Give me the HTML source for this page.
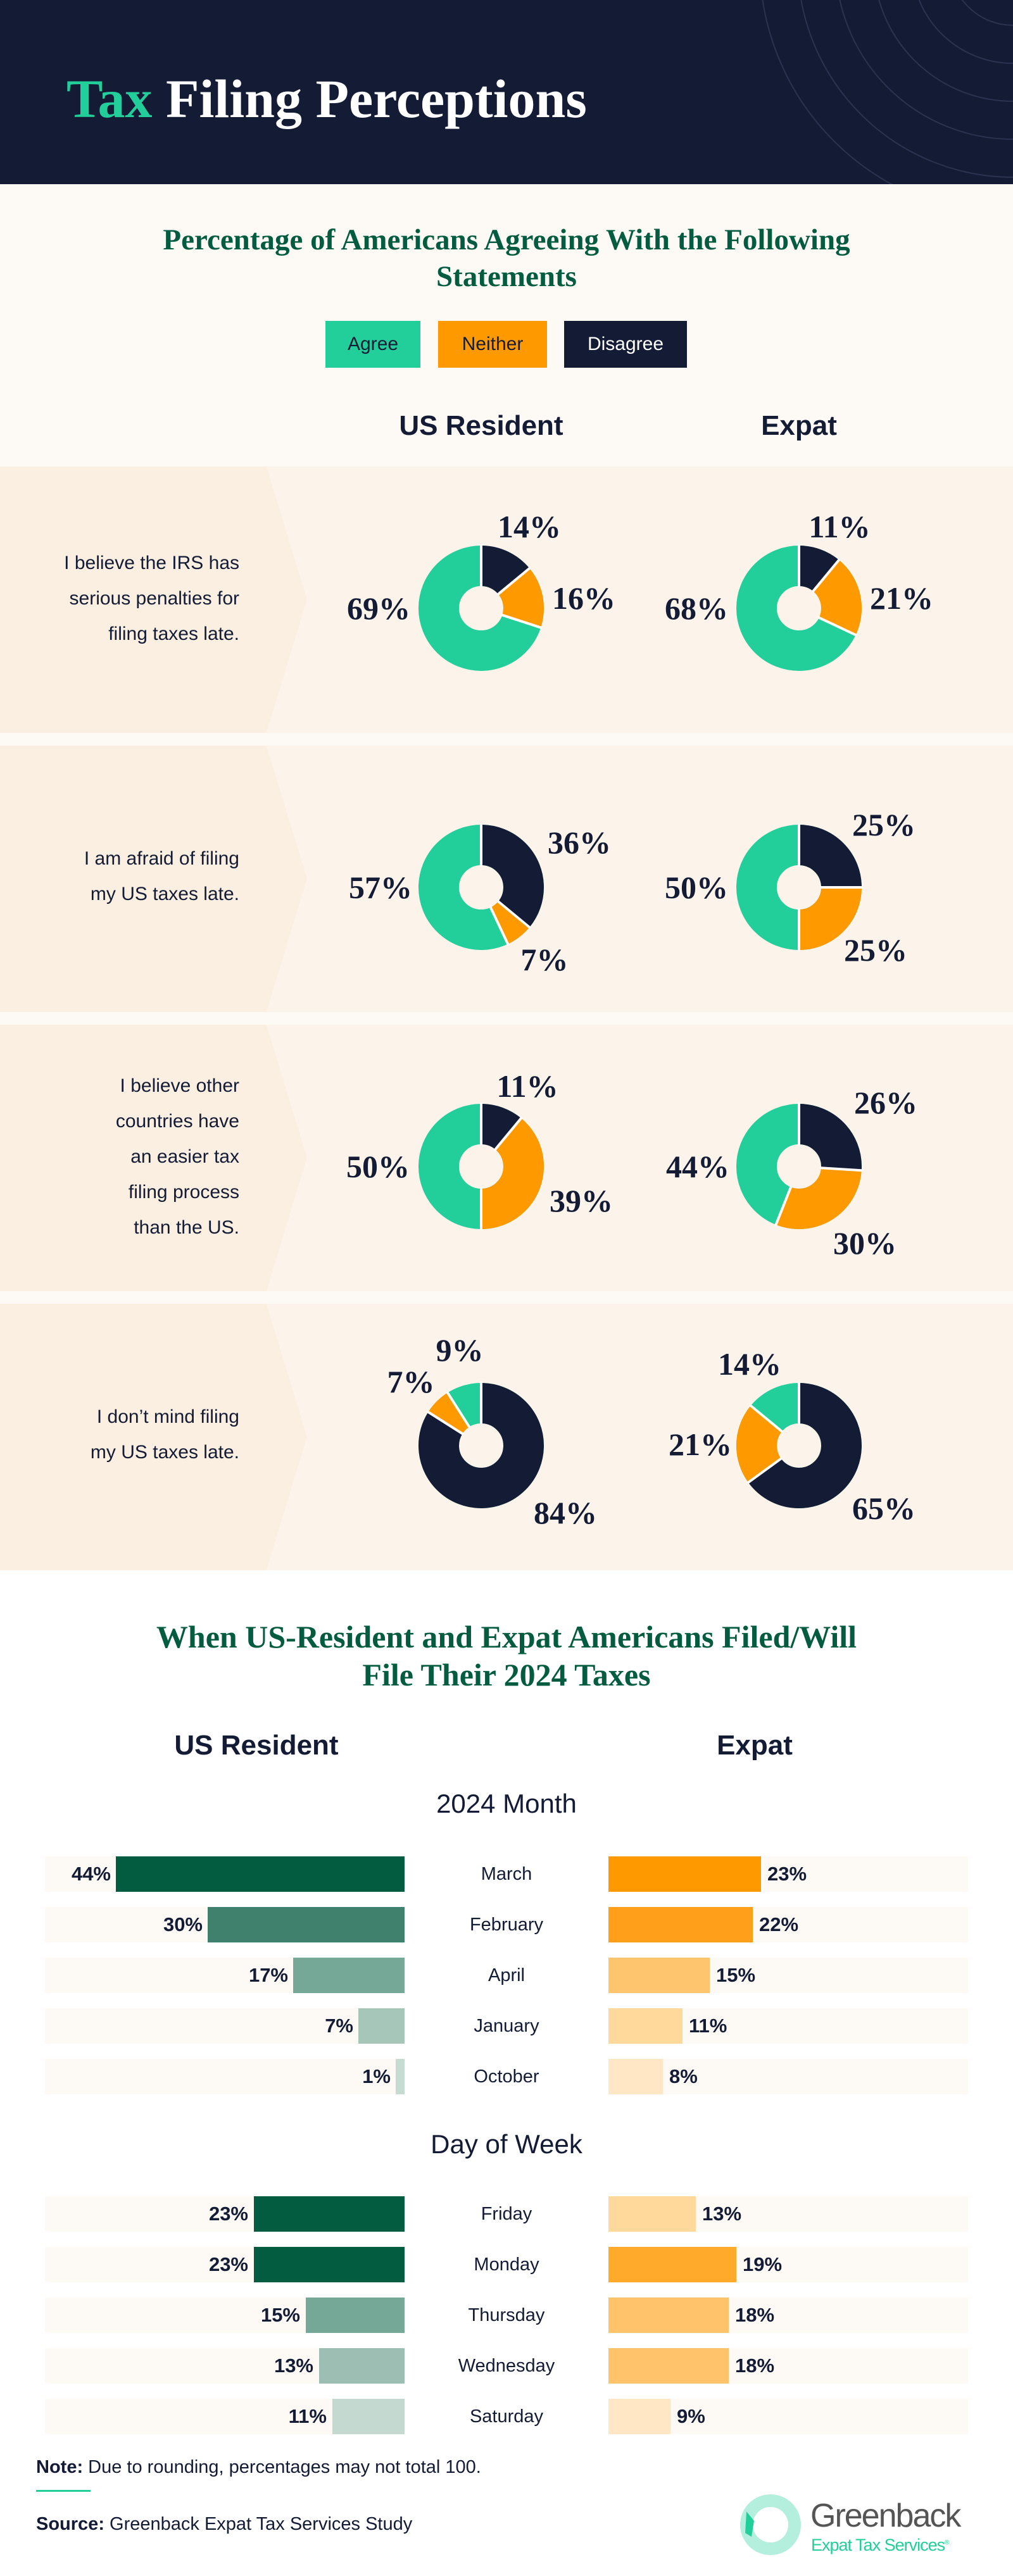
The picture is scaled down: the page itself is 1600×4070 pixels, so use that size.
<!DOCTYPE html>
<html><head><meta charset="utf-8"><style>
*{margin:0;padding:0;box-sizing:border-box}
body{width:1600px;height:4070px;position:relative;overflow:hidden;background:#fff;font-family:"Liberation Sans",sans-serif;color:#131b35}
.a{position:absolute}
.serif{font-family:"Liberation Serif",serif;font-weight:bold}
.pct{position:absolute;font-family:"Liberation Serif",serif;font-weight:bold;font-size:50px;color:#131b35;transform:translate(-50%,-50%);white-space:nowrap;line-height:1}
.row{position:absolute;left:0;width:1600px;height:421px;background:#fcf4eb}
.row .lp{position:absolute;left:0;top:0;width:490px;height:421px}
.row .txt{position:absolute;right:1222px;width:360px;text-align:right;font-size:30px;line-height:56px;color:#131b35}
.bg{position:absolute;height:56px;background:#fdfaf5}
.bar{position:absolute;height:56px}
.bl{position:absolute;font-weight:bold;font-size:31px;line-height:56px;height:56px;white-space:nowrap}
.ml{position:absolute;left:700px;width:200px;text-align:center;font-size:29px;line-height:56px;height:56px}
</style></head><body>

<!-- header -->
<div class="a" style="left:0;top:0;width:1600px;height:291px;background:#131b35;overflow:hidden">
<svg class="a" style="left:0;top:0" width="1600" height="291">
<g fill="none" stroke="#2a3350" stroke-width="2">
<circle cx="1600" cy="-60" r="100"/><circle cx="1600" cy="-60" r="160"/><circle cx="1600" cy="-60" r="220"/><circle cx="1600" cy="-60" r="280"/><circle cx="1600" cy="-60" r="340"/><circle cx="1600" cy="-60" r="400"/>
</g></svg>
<div class="a serif" style="left:105px;top:104px;font-size:86px;line-height:104px;color:#fff;white-space:nowrap"><span style="color:#22cf9a">Tax</span> Filing Perceptions</div>
</div>

<!-- section 1 top -->
<div class="a" style="left:0;top:291px;width:1600px;height:2190px;background:#fdfaf6"></div>
<div class="a serif" style="left:0;top:350px;width:1600px;text-align:center;font-size:47px;line-height:58px;color:#035c3f">Percentage of Americans Agreeing With the Following<br>Statements</div>
<div class="a" style="left:514px;top:507px;width:150px;height:74px;background:#22cf9a;font-size:30px;line-height:74px;text-align:center">Agree</div>
<div class="a" style="left:692px;top:507px;width:172px;height:74px;background:#ff9900;font-size:30px;line-height:74px;text-align:center">Neither</div>
<div class="a" style="left:891px;top:507px;width:194px;height:74px;background:#131b35;color:#fff;font-size:30px;line-height:74px;text-align:center">Disagree</div>
<div class="a" style="left:560px;top:645px;width:400px;text-align:center;font-weight:bold;font-size:44px;line-height:56px">US Resident</div>
<div class="a" style="left:1062px;top:645px;width:400px;text-align:center;font-weight:bold;font-size:44px;line-height:56px">Expat</div>

<!-- rows -->
<div class="row" style="top:737px"><svg class="lp" width="490" height="421"><polygon points="0,0 421,0 485,210 421,421 0,421" fill="#fbefe2"/></svg>
<div class="txt" style="top:125px">I believe the IRS has<br>serious penalties for<br>filing taxes late.</div></div>
<div class="row" style="top:1178px"><svg class="lp" width="490" height="421"><polygon points="0,0 421,0 485,210 421,421 0,421" fill="#fbefe2"/></svg>
<div class="txt" style="top:151px">I am afraid of filing<br>my US taxes late.</div></div>
<div class="row" style="top:1619px"><svg class="lp" width="490" height="421"><polygon points="0,0 421,0 485,210 421,421 0,421" fill="#fbefe2"/></svg>
<div class="txt" style="top:69px">I believe other<br>countries have<br>an easier tax<br>filing process<br>than the US.</div></div>
<div class="row" style="top:2060px"><svg class="lp" width="490" height="421"><polygon points="0,0 421,0 485,210 421,421 0,421" fill="#fbefe2"/></svg>
<div class="txt" style="top:151px">I don’t mind filing<br>my US taxes late.</div></div>

<!-- donuts -->
<svg class="a" style="left:0;top:0" width="1600" height="2500">
<defs>
<g id="sep"><line x1="0" y1="-33" x2="0" y2="-101" stroke="#fff" stroke-width="4"/></g>
</defs>
<g transform="translate(760,961)">
<g transform="rotate(-90)" fill="none" stroke-width="64">
<circle r="67" pathLength="100" stroke="#22cf9a"/>
<circle r="67" pathLength="100" stroke="#131b35" stroke-dasharray="14 200"/>
<circle r="67" pathLength="100" stroke="#ff9900" stroke-dasharray="16 200" stroke-dashoffset="-14"/>
</g><use href="#sep"/><use href="#sep" transform="rotate(50.4)"/><use href="#sep" transform="rotate(108)"/></g>
<g transform="translate(1262,961)">
<g transform="rotate(-90)" fill="none" stroke-width="64">
<circle r="67" pathLength="100" stroke="#22cf9a"/>
<circle r="67" pathLength="100" stroke="#131b35" stroke-dasharray="11 200"/>
<circle r="67" pathLength="100" stroke="#ff9900" stroke-dasharray="21 200" stroke-dashoffset="-11"/>
</g><use href="#sep"/><use href="#sep" transform="rotate(39.6)"/><use href="#sep" transform="rotate(115.2)"/></g>
<g transform="translate(760,1402)">
<g transform="rotate(-90)" fill="none" stroke-width="64">
<circle r="67" pathLength="100" stroke="#22cf9a"/>
<circle r="67" pathLength="100" stroke="#131b35" stroke-dasharray="36 200"/>
<circle r="67" pathLength="100" stroke="#ff9900" stroke-dasharray="7 200" stroke-dashoffset="-36"/>
</g><use href="#sep"/><use href="#sep" transform="rotate(129.6)"/><use href="#sep" transform="rotate(154.8)"/></g>
<g transform="translate(1262,1402)">
<g transform="rotate(-90)" fill="none" stroke-width="64">
<circle r="67" pathLength="100" stroke="#22cf9a"/>
<circle r="67" pathLength="100" stroke="#131b35" stroke-dasharray="25 200"/>
<circle r="67" pathLength="100" stroke="#ff9900" stroke-dasharray="25 200" stroke-dashoffset="-25"/>
</g><use href="#sep"/><use href="#sep" transform="rotate(90)"/><use href="#sep" transform="rotate(180)"/></g>
<g transform="translate(760,1843)">
<g transform="rotate(-90)" fill="none" stroke-width="64">
<circle r="67" pathLength="100" stroke="#22cf9a"/>
<circle r="67" pathLength="100" stroke="#131b35" stroke-dasharray="11 200"/>
<circle r="67" pathLength="100" stroke="#ff9900" stroke-dasharray="39 200" stroke-dashoffset="-11"/>
</g><use href="#sep"/><use href="#sep" transform="rotate(39.6)"/><use href="#sep" transform="rotate(180)"/></g>
<g transform="translate(1262,1843)">
<g transform="rotate(-90)" fill="none" stroke-width="64">
<circle r="67" pathLength="100" stroke="#22cf9a"/>
<circle r="67" pathLength="100" stroke="#131b35" stroke-dasharray="26 200"/>
<circle r="67" pathLength="100" stroke="#ff9900" stroke-dasharray="30 200" stroke-dashoffset="-26"/>
</g><use href="#sep"/><use href="#sep" transform="rotate(93.6)"/><use href="#sep" transform="rotate(201.6)"/></g>
<g transform="translate(760,2284)">
<g transform="rotate(-90)" fill="none" stroke-width="64">
<circle r="67" pathLength="100" stroke="#22cf9a"/>
<circle r="67" pathLength="100" stroke="#131b35" stroke-dasharray="84 200"/>
<circle r="67" pathLength="100" stroke="#ff9900" stroke-dasharray="7 200" stroke-dashoffset="-84"/>
</g><use href="#sep"/><use href="#sep" transform="rotate(302.4)"/><use href="#sep" transform="rotate(327.6)"/></g>
<g transform="translate(1262,2284)">
<g transform="rotate(-90)" fill="none" stroke-width="64">
<circle r="67" pathLength="100" stroke="#22cf9a"/>
<circle r="67" pathLength="100" stroke="#131b35" stroke-dasharray="65 200"/>
<circle r="67" pathLength="100" stroke="#ff9900" stroke-dasharray="21 200" stroke-dashoffset="-65"/>
</g><use href="#sep"/><use href="#sep" transform="rotate(234)"/><use href="#sep" transform="rotate(309.6)"/></g>
</svg>

<!-- donut labels -->
<div class="pct" style="left:598px;top:961px">69%</div>
<div class="pct" style="left:836px;top:832px">14%</div>
<div class="pct" style="left:922px;top:945px">16%</div>
<div class="pct" style="left:1100px;top:961px">68%</div>
<div class="pct" style="left:1326px;top:832px">11%</div>
<div class="pct" style="left:1424px;top:945px">21%</div>

<div class="pct" style="left:601px;top:1402px">57%</div>
<div class="pct" style="left:915px;top:1331px">36%</div>
<div class="pct" style="left:860px;top:1516px">7%</div>
<div class="pct" style="left:1100px;top:1402px">50%</div>
<div class="pct" style="left:1396px;top:1303px">25%</div>
<div class="pct" style="left:1383px;top:1501px">25%</div>

<div class="pct" style="left:597px;top:1843px">50%</div>
<div class="pct" style="left:833px;top:1716px">11%</div>
<div class="pct" style="left:918px;top:1897px">39%</div>
<div class="pct" style="left:1102px;top:1843px">44%</div>
<div class="pct" style="left:1399px;top:1742px">26%</div>
<div class="pct" style="left:1366px;top:1964px">30%</div>

<div class="pct" style="left:726px;top:2133px">9%</div>
<div class="pct" style="left:649px;top:2183px">7%</div>
<div class="pct" style="left:893px;top:2390px">84%</div>
<div class="pct" style="left:1184px;top:2155px">14%</div>
<div class="pct" style="left:1106px;top:2282px">21%</div>
<div class="pct" style="left:1396px;top:2383px">65%</div>

<!-- section 2 -->
<div class="a serif" style="left:0;top:2556px;width:1600px;text-align:center;font-size:50px;line-height:60px;color:#035c3f">When US-Resident and Expat Americans Filed/Will<br>File Their 2024 Taxes</div>
<div class="a" style="left:205px;top:2730px;width:400px;text-align:center;font-weight:bold;font-size:44px;line-height:56px">US Resident</div>
<div class="a" style="left:992px;top:2730px;width:400px;text-align:center;font-weight:bold;font-size:44px;line-height:56px">Expat</div>
<div class="a" style="left:600px;top:2824px;width:400px;text-align:center;font-size:42px;line-height:52px">2024 Month</div>
<div class="a" style="left:600px;top:3362px;width:400px;text-align:center;font-size:42px;line-height:52px">Day of Week</div>

<!-- month bars -->
<div class="bg" style="left:71px;top:2933px;width:568px"></div><div class="bg" style="left:961px;top:2933px;width:568px"></div>
<div class="bar" style="left:183px;top:2933px;width:456px;background:#035c3f"></div><div class="bl" style="right:1425px;top:2933px">44%</div>
<div class="ml" style="top:2933px">March</div>
<div class="bar" style="left:961px;top:2933px;width:241px;background:#ff9900"></div><div class="bl" style="left:1212px;top:2933px">23%</div>

<div class="bg" style="left:71px;top:3013px;width:568px"></div><div class="bg" style="left:961px;top:3013px;width:568px"></div>
<div class="bar" style="left:328px;top:3013px;width:311px;background:#3f816d"></div><div class="bl" style="right:1280px;top:3013px">30%</div>
<div class="ml" style="top:3013px">February</div>
<div class="bar" style="left:961px;top:3013px;width:228px;background:#ff9f1a"></div><div class="bl" style="left:1199px;top:3013px">22%</div>

<div class="bg" style="left:71px;top:3093px;width:568px"></div><div class="bg" style="left:961px;top:3093px;width:568px"></div>
<div class="bar" style="left:463px;top:3093px;width:176px;background:#76a897"></div><div class="bl" style="right:1145px;top:3093px">17%</div>
<div class="ml" style="top:3093px">April</div>
<div class="bar" style="left:961px;top:3093px;width:160px;background:#ffc56e"></div><div class="bl" style="left:1131px;top:3093px">15%</div>

<div class="bg" style="left:71px;top:3173px;width:568px"></div><div class="bg" style="left:961px;top:3173px;width:568px"></div>
<div class="bar" style="left:566px;top:3173px;width:73px;background:#a7c6ba"></div><div class="bl" style="right:1042px;top:3173px">7%</div>
<div class="ml" style="top:3173px">January</div>
<div class="bar" style="left:961px;top:3173px;width:117px;background:#ffd99c"></div><div class="bl" style="left:1088px;top:3173px">11%</div>

<div class="bg" style="left:71px;top:3253px;width:568px"></div><div class="bg" style="left:961px;top:3253px;width:568px"></div>
<div class="bar" style="left:625px;top:3253px;width:14px;background:#c6dcd3"></div><div class="bl" style="right:983px;top:3253px">1%</div>
<div class="ml" style="top:3253px">October</div>
<div class="bar" style="left:961px;top:3253px;width:86px;background:#ffe6c4"></div><div class="bl" style="left:1057px;top:3253px">8%</div>

<!-- day bars -->
<div class="bg" style="left:71px;top:3470px;width:568px"></div><div class="bg" style="left:961px;top:3470px;width:568px"></div>
<div class="bar" style="left:401px;top:3470px;width:238px;background:#035c3f"></div><div class="bl" style="right:1208px;top:3470px">23%</div>
<div class="ml" style="top:3470px">Friday</div>
<div class="bar" style="left:961px;top:3470px;width:138px;background:#ffd99c"></div><div class="bl" style="left:1109px;top:3470px">13%</div>

<div class="bg" style="left:71px;top:3550px;width:568px"></div><div class="bg" style="left:961px;top:3550px;width:568px"></div>
<div class="bar" style="left:401px;top:3550px;width:238px;background:#035c3f"></div><div class="bl" style="right:1208px;top:3550px">23%</div>
<div class="ml" style="top:3550px">Monday</div>
<div class="bar" style="left:961px;top:3550px;width:202px;background:#ffaa2b"></div><div class="bl" style="left:1173px;top:3550px">19%</div>

<div class="bg" style="left:71px;top:3630px;width:568px"></div><div class="bg" style="left:961px;top:3630px;width:568px"></div>
<div class="bar" style="left:483px;top:3630px;width:156px;background:#76a897"></div><div class="bl" style="right:1126px;top:3630px">15%</div>
<div class="ml" style="top:3630px">Thursday</div>
<div class="bar" style="left:961px;top:3630px;width:190px;background:#ffc46b"></div><div class="bl" style="left:1161px;top:3630px">18%</div>

<div class="bg" style="left:71px;top:3710px;width:568px"></div><div class="bg" style="left:961px;top:3710px;width:568px"></div>
<div class="bar" style="left:504px;top:3710px;width:135px;background:#9dbfb3"></div><div class="bl" style="right:1105px;top:3710px">13%</div>
<div class="ml" style="top:3710px">Wednesday</div>
<div class="bar" style="left:961px;top:3710px;width:190px;background:#ffc46b"></div><div class="bl" style="left:1161px;top:3710px">18%</div>

<div class="bg" style="left:71px;top:3790px;width:568px"></div><div class="bg" style="left:961px;top:3790px;width:568px"></div>
<div class="bar" style="left:525px;top:3790px;width:114px;background:#c4dad1"></div><div class="bl" style="right:1084px;top:3790px">11%</div>
<div class="ml" style="top:3790px">Saturday</div>
<div class="bar" style="left:961px;top:3790px;width:98px;background:#ffe6c4"></div><div class="bl" style="left:1069px;top:3790px">9%</div>

<!-- footer -->
<div class="a" style="left:57px;top:3878px;font-size:29px;line-height:40px;white-space:nowrap"><b>Note:</b> Due to rounding, percentages may not total 100.</div>
<div class="a" style="left:57px;top:3934px;width:86px;height:3px;background:#22cf9a"></div>
<div class="a" style="left:57px;top:3968px;font-size:29px;line-height:40px;white-space:nowrap"><b>Source:</b> Greenback Expat Tax Services Study</div>

<svg class="a" style="left:1165px;top:3938px" width="104" height="102">
<circle cx="52" cy="51" r="38" fill="none" stroke="#b3efdc" stroke-width="20"/>
<path d="M14,30 L26,45 L22,70 L12,64 Z" fill="#22cf9a"/>
</svg>
<div class="a" style="left:1280px;top:3946px;font-size:52px;line-height:58px;color:#555;letter-spacing:-2px;white-space:nowrap">Greenback</div>
<div class="a" style="left:1281px;top:4002px;font-size:27px;line-height:32px;color:#22cf9a;letter-spacing:-1px;white-space:nowrap">Expat Tax Services<sup style="font-size:10px">®</sup></div>
</body></html>
